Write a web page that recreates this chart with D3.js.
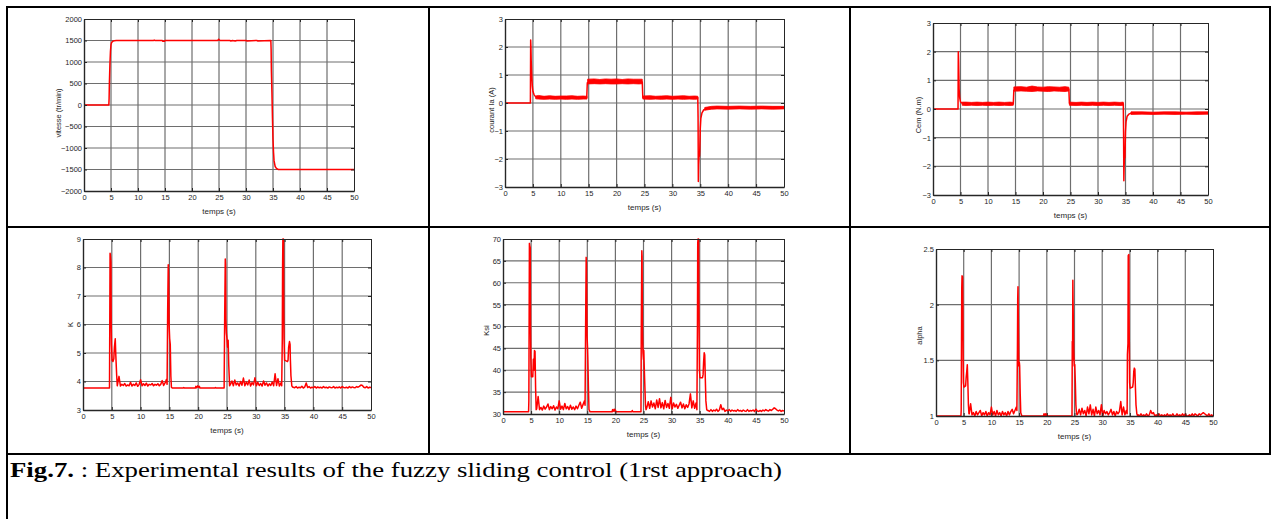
<!DOCTYPE html>
<html><head><meta charset="utf-8">
<script src="https://cdn.jsdelivr.net/npm/d3@7"></script>
<style>body{margin:0;background:#fff}svg{display:block}</style>
</head><body><svg id="c" width="1272" height="519"></svg>
<script>
// ---------------- DATA ----------------
const timeTicks = [0,5,10,15,20,25,30,35,40,45,50];
const speedTicks = [-2000,-1500,-1000,-500,0,500,1000,1500,2000];
const currentTicks = [-3,-2,-1,0,1,2,3];
const cemTicks = [-3,-2,-1,0,1,2,3];
const kTicks = [3,4,5,6,7,8,9];
const ksiTicks = [30,35,40,45,50,55,60,65,70];
const alphaTicks = [1,1.5,2,2.5];

const speed = [[0,0],[4.6,0],[4.65,150],[4.7,500],[4.8,950],[4.9,1250],[5.0,1400],[5.1,1450],[5.3,1480],[5.6,1495],[6.0,1500],[12.9,1500],[13.0,1510],[13.1,1500],[14.5,1500],[14.6,1480],[14.9,1480],[15.0,1500],[24.8,1500],[24.9,1530],[25.0,1520],[25.2,1500],[27.0,1500],[27.2,1490],[27.5,1500],[28.0,1490],[28.3,1500],[30.0,1500],[30.2,1490],[32.0,1500],[32.2,1490],[34.55,1500],[34.6,1500],[34.65,1300],[34.7,800],[34.8,300],[34.9,-300],[35.0,-800],[35.1,-1100],[35.2,-1300],[35.4,-1430],[35.6,-1470],[35.8,-1490],[36.0,-1500],[50,-1500]];

const currentLine = [[0,0],[4.55,0],[4.6,2.25],[4.65,2.0],[4.7,1.5],[4.8,0.95],[4.9,0.6],[5.0,0.42],[5.2,0.3],[5.5,0.22],[14.65,0.2],[14.75,0.72],[24.6,0.75],[24.7,0.2],[34.55,0.2],[34.6,-0.5],[34.65,-2.8],[34.7,-2.2],[34.8,-1.8],[34.85,-1.9],[34.9,-1.7],[35.0,-0.9],[35.1,-0.55],[35.3,-0.35],[35.6,-0.25],[36.0,-0.2],[50,-0.15]];
const currentBand1 = [[5.5,0.15,0.25],[6,0.14,0.27],[7,0.13,0.24],[8,0.14,0.26],[9,0.13,0.24],[10,0.14,0.25],[11,0.13,0.25],[12,0.14,0.26],[13,0.13,0.24],[14,0.14,0.25],[14.7,0.14,0.24]];
const currentBand2 = [[14.8,0.68,0.85],[16,0.69,0.86],[17,0.68,0.84],[18,0.69,0.86],[19,0.68,0.85],[20,0.68,0.86],[21,0.69,0.84],[22,0.68,0.86],[23,0.69,0.85],[24,0.68,0.85],[24.6,0.69,0.85]];
const currentBand3 = [[24.7,0.14,0.25],[26,0.13,0.26],[27,0.14,0.24],[28,0.13,0.25],[29,0.14,0.26],[30,0.13,0.24],[31,0.14,0.25],[32,0.13,0.26],[33,0.14,0.24],[34,0.13,0.25],[34.55,0.14,0.24]];
const currentBand4 = [[35.8,-0.26,-0.16],[37,-0.22,-0.12],[38,-0.21,-0.11],[40,-0.22,-0.12],[42,-0.21,-0.11],[44,-0.22,-0.12],[46,-0.21,-0.11],[48,-0.22,-0.12],[50,-0.21,-0.12]];

const cemLine = [[0,0],[4.55,0],[4.6,2.0],[4.65,1.7],[4.7,1.2],[4.75,0.7],[4.85,0.4],[5.0,0.25],[5.3,0.2],[14.6,0.18],[14.7,0.65],[24.7,0.7],[24.8,0.2],[34.6,0.18],[34.65,-0.8],[34.7,-2.5],[34.75,-2.0],[34.85,-1.6],[34.9,-1.7],[35.0,-0.8],[35.1,-0.45],[35.3,-0.25],[35.6,-0.18],[36,-0.15],[50,-0.15]];
const cemBand1 = [[5.3,0.13,0.24],[6,0.12,0.24],[7,0.13,0.23],[8,0.12,0.24],[9,0.13,0.23],[10,0.12,0.24],[11,0.13,0.23],[12,0.12,0.24],[13,0.13,0.23],[14,0.12,0.24],[14.6,0.13,0.23]];
const cemBand2 = [[14.7,0.62,0.77],[16,0.63,0.78],[17,0.62,0.76],[18,0.61,0.8],[19,0.63,0.77],[20,0.62,0.76],[21,0.61,0.78],[22,0.63,0.77],[23,0.62,0.76],[24,0.61,0.78],[24.7,0.63,0.76]];
const cemBand3 = [[24.8,0.13,0.24],[26,0.12,0.23],[27,0.13,0.24],[28,0.12,0.23],[29,0.13,0.24],[30,0.12,0.23],[31,0.13,0.24],[32,0.12,0.23],[33,0.13,0.24],[34,0.12,0.23],[34.6,0.13,0.24]];
const cemBand4 = [[36,-0.19,-0.1],[38,-0.18,-0.1],[40,-0.19,-0.11],[42,-0.18,-0.1],[44,-0.19,-0.1],[46,-0.18,-0.11],[48,-0.19,-0.1],[50,-0.18,-0.1]];

// noisy segments: samples every 0.25 s starting at the given times
const noiseStep = 0.25;
const noiseStarts = [6.0, 25.6, 36.5];

const kPart1 = [[0,3.77],[4.6,3.77],[4.62,4.6],[4.7,8.5],[4.75,8.45],[4.85,8.2],[4.9,6.0],[4.95,5.3],[5.05,4.75],[5.2,4.7],[5.35,4.8],[5.45,5.2],[5.6,5.5],[5.7,4.9],[5.85,4.2],[5.95,3.85]];
const kNoise1 = [3.9,4.18,3.84,3.9,3.86,3.93,3.84,3.88,3.85,3.97,3.84,3.9,3.86,3.95,3.83,3.9,4.06,3.85,3.92,3.86,3.94,3.84,3.9,3.88,3.93,3.85,3.9,3.87,3.92,3.85,3.9,4.03,3.86,3.95,4.08];
const kPart2 = [[14.6,3.9],[14.7,6.5],[14.8,8.1],[14.85,7.8],[14.95,6.0],[15.05,5.5],[15.15,5.3],[15.25,4.2],[15.35,3.8],[15.5,3.77],[17.4,3.77],[17.5,3.79],[17.6,3.77],[19.5,3.77],[19.6,3.83],[19.7,3.78],[19.9,3.85],[20.0,3.8],[20.2,3.83],[20.3,3.77],[22.9,3.77],[23.0,3.79],[23.1,3.77],[24.5,3.77],[24.6,6.3],[24.7,8.3],[24.75,8.1],[24.8,6.2],[24.9,5.7],[25.0,5.5],[25.1,5.2],[25.2,5.45],[25.3,4.6],[25.45,3.85]];
const kNoise2 = [3.9,4.02,3.85,4.05,3.88,3.95,3.84,4.0,3.87,4.12,3.85,3.98,3.88,4.05,3.84,3.96,3.88,4.13,3.85,3.97,3.86,3.93,3.84,4.02,3.87,3.95,3.84,3.92,3.86,3.98,3.85,4.27,3.86,4.1,3.84,3.95];
const kPart3 = [[34.5,3.85],[34.6,5.5],[34.65,8.0],[34.7,9.0],[34.8,9.0],[34.85,6.5],[34.9,5.5],[35.0,4.75],[35.5,4.7],[35.6,4.75],[35.7,5.2],[35.85,5.4],[35.95,5.3],[36.0,4.8],[36.1,4.2],[36.25,3.85],[36.4,3.8]];
const kNoise3 = [3.8,3.78,3.82,3.77,3.8,3.78,3.83,3.77,3.81,3.95,3.79,3.82,3.77,3.8,3.78,3.82,3.77,3.81,3.78,3.8,3.77,3.82,3.78,3.8,3.77,3.81,3.79,3.78,3.82,3.77,3.8,3.78,3.81,3.77,3.82,3.79,3.78,3.8,3.77,3.82,3.78,3.81,3.79,3.78,3.82,3.8,3.83,3.88,3.86,3.8,3.78,3.82,3.77,3.8,3.79];

const ksiPart1 = [[0,30.5],[4.55,30.5],[4.6,33],[4.7,69],[4.75,68.5],[4.85,68],[4.9,50],[4.95,43],[5.05,38.5],[5.3,38.5],[5.4,42.5],[5.5,40],[5.6,44.5],[5.7,44.3],[5.8,36],[5.9,31]];
const ksiNoise1 = [31.2,34.0,31.0,31.5,30.9,31.8,31.1,31.6,32.3,31.0,31.7,31.2,31.9,30.9,31.6,31.2,33.0,31.1,31.8,31.0,32.4,31.2,31.7,31.0,32.0,31.1,31.6,31.0,31.8,31.2,32.0,32.7,31.3,32.2,33.0];
const ksiPart2 = [[14.6,32],[14.7,50],[14.8,65.8],[14.85,64],[14.95,48],[15.05,45],[15.1,42.5],[15.2,36],[15.3,31],[15.5,30.5],[19.4,30.5],[19.5,31.0],[19.6,30.6],[19.8,31.1],[19.9,30.6],[20.0,30.9],[20.1,30.5],[22.9,30.5],[23.0,30.8],[23.1,30.5],[24.55,30.5],[24.6,48],[24.7,67.3],[24.75,66],[24.8,50],[24.9,44],[25.0,42.5],[25.05,44.5],[25.15,40],[25.25,36],[25.35,32],[25.45,31]];
const ksiNoise2 = [31.5,32.8,31.3,33.0,31.6,32.5,31.2,33.2,31.5,33.5,31.4,32.6,31.2,33.1,31.5,32.4,31.3,33.8,31.2,32.5,31.6,32.2,31.3,32.0,32.7,31.4,32.3,31.2,32.1,31.5,32.3,34.6,31.4,33.0,31.3,32.5];
const ksiPart3 = [[34.5,31],[34.6,50],[34.65,69],[34.7,70],[34.8,70],[34.85,55],[34.95,40],[35.05,38.3],[35.5,38.3],[35.6,39],[35.7,42],[35.8,44],[35.9,43.5],[36.0,38],[36.1,33],[36.25,31],[36.4,30.8]];
const ksiNoise3 = [30.8,30.6,31.0,30.6,30.9,30.7,31.1,30.6,30.9,32.1,31.0,31.3,30.6,30.9,30.7,31.0,30.6,30.9,30.7,30.8,30.6,31.0,30.7,30.8,30.6,30.9,30.7,30.6,31.0,30.6,30.8,30.7,30.9,30.6,31.1,30.7,30.6,30.8,30.6,30.9,30.7,31.0,30.8,30.7,31.0,30.8,31.1,31.4,31.2,30.9,30.7,30.9,30.6,30.8,30.7];

const alphaPart1 = [[0,1.01],[0.1,1.0],[4.5,1.0],[4.55,1.05],[4.65,2.15],[4.7,2.26],[4.8,2.25],[4.85,2.0],[4.9,1.5],[4.95,1.3],[5.05,1.26],[5.35,1.27],[5.45,1.35],[5.55,1.4],[5.65,1.46],[5.75,1.3],[5.85,1.1],[5.95,1.02]];
const alphaNoise1 = [1.02,1.11,1.01,1.03,1.0,1.04,1.01,1.03,1.05,1.0,1.03,1.01,1.04,1.0,1.03,1.01,1.08,1.01,1.04,1.0,1.05,1.01,1.03,1.0,1.04,1.01,1.03,1.0,1.04,1.01,1.04,1.06,1.02,1.05,1.08];
const alphaPart2 = [[14.6,1.05],[14.7,1.6],[14.75,2.05],[14.8,2.16],[14.85,1.9],[14.95,1.45],[15.05,1.48],[15.1,1.45],[15.2,1.2],[15.3,1.03],[15.5,1.0],[19.4,1.0],[19.5,1.02],[19.6,1.0],[19.8,1.02],[19.9,1.0],[20.0,1.015],[20.1,1.0],[24.55,1.0],[24.6,1.67],[24.65,1.5],[24.7,2.22],[24.75,2.0],[24.85,1.6],[24.95,1.45],[25.05,1.46],[25.15,1.3],[25.25,1.1],[25.35,1.03],[25.45,1.01]];
const alphaNoise2 = [1.02,1.06,1.01,1.07,1.02,1.05,1.0,1.08,1.02,1.1,1.01,1.06,1.0,1.08,1.02,1.05,1.01,1.1,1.0,1.05,1.02,1.04,1.01,1.03,1.06,1.01,1.04,1.0,1.04,1.02,1.04,1.13,1.01,1.08,1.01,1.05];
const alphaPart3 = [[34.5,1.02],[34.55,1.55],[34.65,1.65],[34.7,2.44],[34.8,2.45],[34.85,1.9],[34.95,1.3],[35.05,1.25],[35.5,1.26],[35.6,1.3],[35.7,1.4],[35.8,1.43],[35.9,1.42],[36.0,1.25],[36.1,1.1],[36.25,1.02],[36.4,1.0]];
const alphaNoise3 = [1.01,1.0,1.02,1.0,1.01,1.0,1.02,1.0,1.01,1.05,1.02,1.03,1.0,1.01,1.0,1.02,1.0,1.01,1.0,1.01,1.0,1.02,1.0,1.01,1.0,1.02,1.0,1.0,1.02,1.0,1.01,1.0,1.02,1.0,1.02,1.0,1.0,1.01,1.0,1.02,1.0,1.02,1.01,1.0,1.02,1.01,1.02,1.03,1.02,1.01,1.0,1.02,1.0,1.01,1.0];

const captionBold = "Fig.7.";
const captionText = " : Experimental results of the fuzzy sliding control (1rst approach)";

// ---------------- BUILD ----------------
function noisePts(vals, start){ return vals.map((v,i)=>[start + i*noiseStep, v]); }
function assemble(p1,n1,p2,n2,p3,n3){
  return [].concat(p1, noisePts(n1,noiseStarts[0]), p2, noisePts(n2,noiseStarts[1]), p3, noisePts(n3,noiseStarts[2]));
}
const kSeries = assemble(kPart1,kNoise1,kPart2,kNoise2,kPart3,kNoise3);
const ksiSeries = assemble(ksiPart1,ksiNoise1,ksiPart2,ksiNoise2,ksiPart3,ksiNoise3);
const alphaSeries = assemble(alphaPart1,alphaNoise1,alphaPart2,alphaNoise2,alphaPart3,alphaNoise3);

const svg = d3.select('#c');
const RED = '#ff0000';

// table borders
const borders = [
  [7,6,7,519],[1270,6,1270,454],[6,7,1271,7],[6,227,1271,227],[6,454,1271,454],
  [429,7,429,454],[850,7,850,454]
];
svg.append('g').selectAll('line').data(borders).join('line')
  .attr('x1',d=>d[0]).attr('y1',d=>d[1]).attr('x2',d=>d[2]).attr('y2',d=>d[3])
  .attr('stroke','#000').attr('stroke-width',2);

const panels = [
  {l:84,r:354,t:19,b:191,dom:[-2000,2000],ticks:speedTicks,label:'vitesse (tr/min)',lx:-26,ly:8,line:speed,bands:[]},
  {l:505,r:784,t:19,b:187,dom:[-3,3],ticks:currentTicks,label:'courant Ia (A)',lx:-14,ly:7,line:currentLine,bands:[currentBand1,currentBand2,currentBand3,currentBand4]},
  {l:933,r:1208,t:23,b:195,dom:[-3,3],ticks:cemTicks,label:'Cem (N.m)',lx:-15,ly:6,line:cemLine,bands:[cemBand1,cemBand2,cemBand3,cemBand4]},
  {l:83,r:371,t:239,b:410,dom:[3,9],ticks:kTicks,label:'K',lx:-13,ly:0,line:kSeries,bands:[]},
  {l:503,r:784,t:239,b:414,dom:[30,70],ticks:ksiTicks,label:'Ksi',lx:-17,ly:4,line:ksiSeries,bands:[]},
  {l:936,r:1213,t:249,b:416,dom:[1,2.5],ticks:alphaTicks,label:'alpha',lx:-17,ly:3,line:alphaSeries,bands:[]}
];

const FONT = '"Liberation Sans", Arial, Helvetica, sans-serif';

panels.forEach((p,i)=>{
  const x = d3.scaleLinear().domain([0,50]).range([p.l,p.r]);
  const y = d3.scaleLinear().domain(p.dom).range([p.b,p.t]);
  const g = svg.append('g');
  // grid
  g.append('g').selectAll('line').data(timeTicks.slice(1,-1)).join('line')
    .attr('x1',d=>x(d)).attr('x2',d=>x(d)).attr('y1',p.t).attr('y2',p.b)
    .attr('stroke','#6e6e6e').attr('stroke-width',1.2);
  g.append('g').selectAll('line').data(p.ticks.slice(1,-1)).join('line')
    .attr('y1',d=>y(d)).attr('y2',d=>y(d)).attr('x1',p.l).attr('x2',p.r)
    .attr('stroke','#6e6e6e').attr('stroke-width',1.2);
  // clip
  const cid = 'clip'+i;
  svg.append('clipPath').attr('id',cid).append('rect')
    .attr('x',p.l).attr('y',p.t-1).attr('width',p.r-p.l).attr('height',p.b-p.t+2);
  const dg = g.append('g').attr('clip-path',`url(#${cid})`);
  const area = d3.area().x(d=>x(d[0])).y0(d=>y(d[1])).y1(d=>y(d[2]));
  p.bands.forEach(b=>{
    dg.append('path').attr('d',area(b)).attr('fill',RED).attr('stroke',RED).attr('stroke-width',0.8);
  });
  const line = d3.line().x(d=>x(d[0])).y(d=>y(d[1]));
  dg.append('path').attr('d',line(p.line)).attr('fill','none').attr('stroke',RED)
    .attr('stroke-width',1.5).attr('stroke-linejoin','round');
  // axes
  const ax = g.append('g').attr('transform',`translate(0,${p.b})`)
    .call(d3.axisBottom(x).tickValues(timeTicks).tickSizeInner(-3).tickSizeOuter(0).tickPadding(4));
  const ay = g.append('g').attr('transform',`translate(${p.l},0)`)
    .call(d3.axisLeft(y).tickValues(p.ticks).tickFormat(d3.format('~g')).tickSizeInner(-3).tickSizeOuter(0).tickPadding(2));
  const at = g.append('g').attr('transform',`translate(0,${p.t})`)
    .call(d3.axisTop(x).tickValues(timeTicks).tickSizeInner(-3).tickSizeOuter(0).tickFormat(''));
  const ar = g.append('g').attr('transform',`translate(${p.r},0)`)
    .call(d3.axisRight(y).tickValues(p.ticks).tickSizeInner(-3).tickSizeOuter(0).tickFormat(''));
  [ax,ay,at,ar].forEach(a=>{
    a.selectAll('path.domain').attr('stroke','#262626').attr('stroke-width',1);
    a.selectAll('.tick line').attr('stroke','#262626');
    a.selectAll('text').attr('font-family',FONT).attr('font-size','7.5px').attr('fill','#262626');
  });
  ax.select('path.domain').attr('stroke-width',1.4);
  ay.select('path.domain').attr('stroke-width',1.4);
  // x label
  g.append('text').attr('x',(p.l+p.r)/2).attr('y',p.b+20).attr('text-anchor','middle')
    .attr('dominant-baseline','central').attr('font-family',FONT).attr('font-size','8px').attr('fill','#262626')
    .text('temps (s)');
  // y label
  const cy = (p.t+p.b)/2 + p.ly, cx = p.l + p.lx;
  g.append('text').attr('transform',`translate(${cx},${cy}) rotate(-90)`)
    .attr('text-anchor','middle').attr('dominant-baseline','central')
    .attr('font-family',FONT).attr('font-size','7.5px').attr('fill','#262626').text(p.label);
});

// caption
const cap = svg.append('text').attr('x',10).attr('y',477)
  .attr('font-family','"Liberation Serif", "Times New Roman", Times, serif').attr('font-size','21px').attr('fill','#000');
cap.append('tspan').attr('font-weight','bold').text(captionBold);
cap.append('tspan').text(captionText);
const len = cap.node().getComputedTextLength();
if (Math.abs(len-772) > 2) cap.attr('textLength',772).attr('lengthAdjust','spacingAndGlyphs');
</script></body></html>
